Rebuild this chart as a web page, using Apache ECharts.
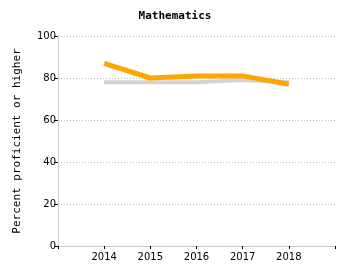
<!DOCTYPE html>
<html><head><meta charset="utf-8">
<script src="https://cdn.jsdelivr.net/npm/echarts@6/dist/echarts.min.js"></script>
<style>html,body{margin:0;padding:0;background:#fff}#c{width:350px;height:280px}</style>
</head><body><div id="c"></div>
<script>
const years = [2014, 2015, 2016, 2017, 2018];
const subjectScores = [87, 80, 81, 81, 77];
const comparisonScores = [78, 78, 78, 79, 78];
const yTicks = [0, 20, 40, 60, 80, 100];

const chart = echarts.init(document.getElementById('c'), null, {renderer: 'canvas'});
chart.setOption({
  animation: false,
  title: {
    text: 'Mathematics', left: 'center', top: 6,
    textStyle: {fontFamily: 'DejaVu Sans Mono', fontWeight: 'bold', fontSize: 11, color: '#000'}
  },
  grid: {left: 58, right: 15, top: 36, bottom: 34},
  xAxis: {
    type: 'value', min: 2013, max: 2019, interval: 1,
    axisLine: {show: true, lineStyle: {color: '#ccc', width: 1}},
    axisTick: {show: true, length: 3, lineStyle: {color: '#000'}},
    splitLine: {show: false},
    axisLabel: {
      fontFamily: 'DejaVu Sans', fontSize: 10, color: '#000', margin: 6,
      customValues: years,
      formatter: v => String(v)
    }
  },
  yAxis: {
    type: 'value', min: 0, max: 100, interval: 20,
    name: 'Percent proficient or higher', nameLocation: 'middle', nameGap: 35,
    nameTextStyle: {fontFamily: 'DejaVu Sans Mono', fontSize: 11, color: '#000'},
    axisLine: {show: true, lineStyle: {color: '#ccc', width: 1}},
    axisTick: {show: true, length: 4, lineStyle: {color: '#000'}},
    axisLabel: {fontFamily: 'DejaVu Sans', fontSize: 10, color: '#000', margin: 2,
      formatter: v => yTicks.includes(v) ? String(v) : ''},
    splitLine: {show: true, lineStyle: {color: '#bbb', type: [1, 2], width: 1}}
  },
  series: [
    {
      type: 'line', data: years.map((y, i) => [y, comparisonScores[i]]),
      symbol: 'none', lineStyle: {color: '#d3d3d3', width: 4}, z: 2
    },
    {
      type: 'line', data: years.map((y, i) => [y, subjectScores[i]]),
      symbol: 'none', lineStyle: {color: '#ffa500', width: 5}, z: 3
    }
  ]
});
</script></body></html>
